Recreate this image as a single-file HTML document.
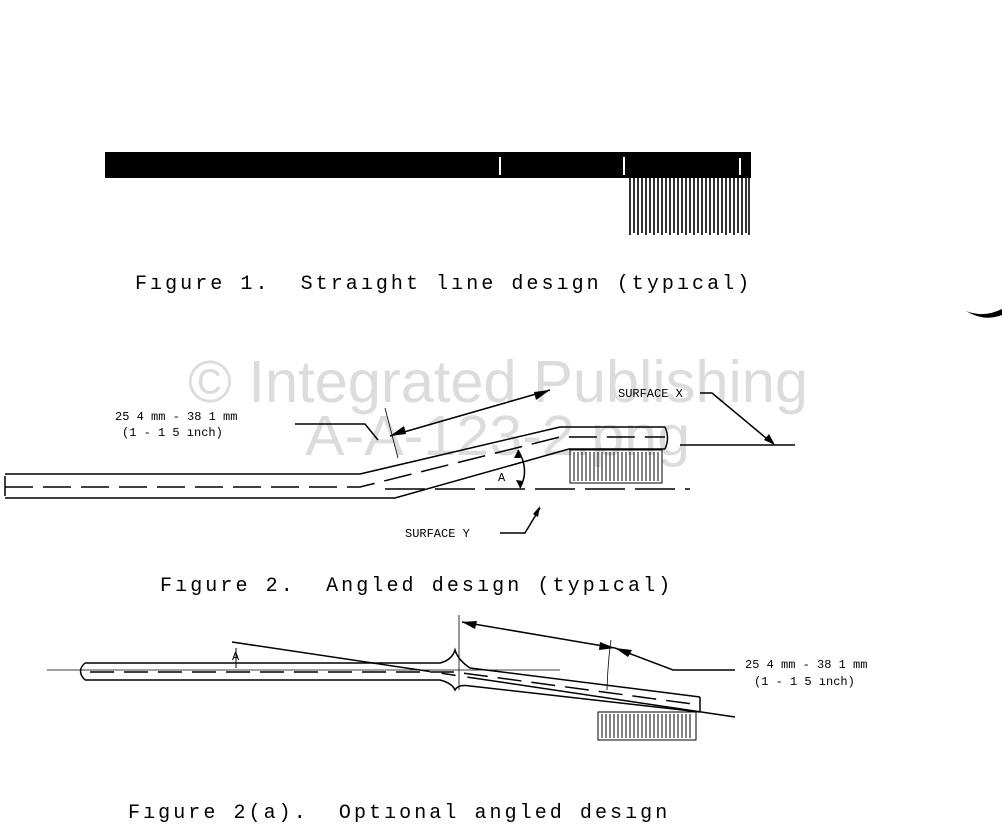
<!DOCTYPE html>
<html><head><style>
html,body{margin:0;padding:0;background:#fff;width:1002px;height:825px;overflow:hidden}
svg{display:block}
.cap{font-family:"Liberation Mono",monospace;font-size:20px;letter-spacing:2.8px;fill:#000;white-space:pre}
.sm{font-family:"Liberation Mono",monospace;font-size:12px;fill:#000;white-space:pre}
.wm{font-family:"Liberation Sans",sans-serif;fill:#dcdcdc}
</style></head><body>
<svg width="1002" height="825" viewBox="0 0 1002 825" xmlns="http://www.w3.org/2000/svg" xml:space="preserve">
<!-- watermark -->
<text class="wm" x="188" y="402" font-size="59" textLength="620" lengthAdjust="spacingAndGlyphs">© Integrated Publishing</text>
<text class="wm" x="305" y="455" font-size="57" textLength="385" lengthAdjust="spacingAndGlyphs">A-A-123-2.png</text>

<!-- Figure 1 -->
<rect x="105" y="152" width="646" height="26" fill="#000"/>
<g stroke="#fff" stroke-width="2"><line x1="500" y1="157" x2="500" y2="175"/><line x1="624" y1="157" x2="624" y2="175"/><line x1="740" y1="158" x2="740" y2="175"/></g>
<g stroke="#000" stroke-width="1.6">
<path d="M630 178V235M634 178V233M638 178V235M642 178V233M646 178V235M650 178V233M654 178V235M658 178V233M662 178V235M666 178V233M670 178V235M674 178V233M678 178V235M682 178V233M686 178V235M690 178V233M694 178V235M698 178V233M702 178V235M706 178V233M710 178V235M714 178V233M718 178V235M722 178V233M726 178V235M730 178V233M734 178V235M738 178V233M742 178V235M746 178V233M749 178V235"/>
</g>
<text class="cap" x="135" y="289" textLength="617" lengthAdjust="spacing">Fıgure 1.  Straıght lıne desıgn (typıcal)</text>

<path d="M966 311 Q984 318 1002 309 L1002 315 Q984 322 966 311Z" fill="#000"/>

<!-- Figure 2 -->
<g stroke="#000" stroke-width="1.5" fill="none">
<path d="M5 474H360L560 427H665"/>
<path d="M5 498H395L569 449H665"/>
<path d="M665 427Q670 438 665 449"/>
<path d="M5 476V496"/>
<path d="M5 487H360L560 437H665" stroke-dasharray="28 10"/>
<path d="M385 489H690" stroke-dasharray="40 10"/>
<path d="M680 445H795"/>
<rect x="570" y="450" width="92" height="33" stroke-width="1"/>
<path d="M574 452V481M578 452V481M582 452V481M586 452V481M590 452V481M594 452V481M598 452V481M602 452V481M606 452V481M610 452V481M614 452V481M618 452V481M622 452V481M626 452V481M630 452V481M634 452V481M638 452V481M642 452V481M646 452V481M650 452V481M654 452V481M658 452V481" stroke-width="1"/>
<path d="M390 436L550 390"/>
<path d="M295 424H365L378 440"/>
<path d="M385 408L398 458" stroke-width="0.8"/>
<path d="M518 450Q530 470 520 488"/>
<path d="M500 533H525L540 508"/>
<path d="M700 393H712L772 443"/>
</g>
<g fill="#000">
<path d="M390 436L404 426L406 434Z"/>
<path d="M550 390L536 400L534 392Z"/>
<path d="M540 506L533 514L538 517Z"/>
<path d="M775 445L764 440L769 434Z"/>
<path d="M518 450L514 458L521 458Z"/>
<path d="M520 488L516 480L523 481Z"/>
</g>
<text class="sm" x="115" y="420">25 4 mm - 38 1 mm</text>
<text class="sm" x="122" y="436">(1 - 1 5 ınch)</text>
<text class="sm" x="498" y="481">A</text>
<text class="sm" x="405" y="537">SURFACE Y</text>
<text class="sm" x="618" y="397">SURFACE X</text>
<text class="cap" x="160" y="591" textLength="513" lengthAdjust="spacing">Fıgure 2.  Angled desıgn (typıcal)</text>

<!-- Figure 2a -->
<g stroke="#000" stroke-width="1.5" fill="none">
<path d="M85 663H440Q452 660 455 650Q458 660 470 668L700 697"/>
<path d="M85 680H440Q452 683 455 690Q458 684 470 686L700 712"/>
<path d="M85 663Q76 671 85 680"/>
<path d="M47 670H560" stroke-width="0.8"/>
<path d="M90 672H455L700 705" stroke-dasharray="24 10"/>
<path d="M232 642L735 717" stroke-dasharray="200 12 14 12 300"/>
<path d="M700 697V712"/>
<rect x="598" y="712" width="98" height="28" stroke-width="1"/>
<path d="M602 714V738M606 714V738M610 714V738M614 714V738M618 714V738M622 714V738M626 714V738M630 714V738M634 714V738M638 714V738M642 714V738M646 714V738M650 714V738M654 714V738M658 714V738M662 714V738M666 714V738M670 714V738M674 714V738M678 714V738M682 714V738M686 714V738M690 714V738" stroke-width="1"/>
<path d="M459 615V690" stroke-width="0.8"/>
<path d="M611 640Q608 660 607 690" stroke-width="0.8"/>
<path d="M462 622L615 648"/>
<path d="M615 648L673 670H735"/>
<path d="M236 648V668" stroke-width="1"/>
</g>
<g fill="#000">
<path d="M462 622L477 621L475 629Z"/>
<path d="M615 648L600 642L599 650Z"/>
<path d="M615 648L628 657L632 650Z"/>
</g>
<text class="sm" x="232" y="660" font-size="11">A</text>
<text class="sm" x="745" y="668">25 4 mm - 38 1 mm</text>
<text class="sm" x="754" y="685">(1 - 1 5 ınch)</text>
<text class="cap" x="128" y="818" textLength="542" lengthAdjust="spacing">Fıgure 2(a).  Optıonal angled desıgn</text>
</svg>
</body></html>
